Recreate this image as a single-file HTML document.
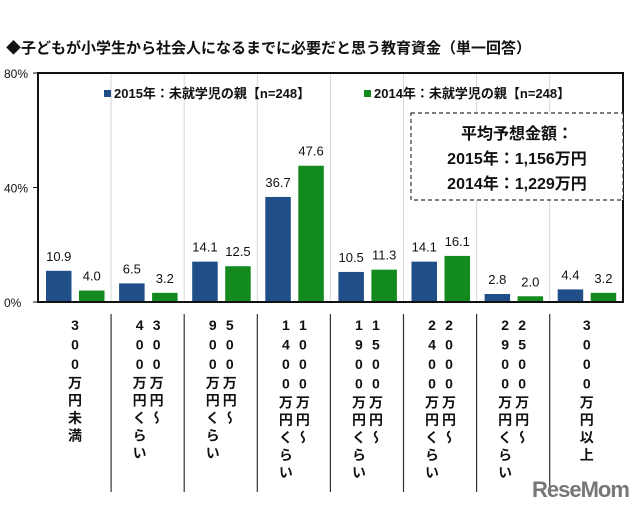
<!DOCTYPE html>
<html><head><meta charset="utf-8"><style>
body{margin:0;background:#fff;width:640px;height:509px;overflow:hidden;font-family:"Liberation Sans","Noto Sans CJK JP",sans-serif;}
svg text{font-family:"Liberation Sans","Noto Sans CJK JP",sans-serif;}
.vl{position:absolute;writing-mode:vertical-rl;text-orientation:upright;font-weight:bold;font-size:14px;line-height:17px;letter-spacing:3.5px;color:#111;}
</style></head><body>
<svg id="chart" width="640" height="509" style="position:absolute;left:0;top:0">
<text x="6" y="53" font-size="15" font-weight="bold" fill="#111">◆子どもが小学生から社会人になるまでに必要だと思う教育資金（単一回答）</text>
<g id="grid"></g><g id="bars"></g>
<rect x="38" y="73" width="585" height="229" fill="none" stroke="#111" stroke-width="2"/>
<g>
<rect x="104" y="90" width="7" height="7" fill="#1f4e89"/>
<text x="114" y="98" font-size="13" font-weight="bold" fill="#111">2015年：未就学児の親【n=248】</text>
<rect x="364" y="90" width="7" height="7" fill="#138a1e"/>
<text x="374" y="98" font-size="13" font-weight="bold" fill="#111">2014年：未就学児の親【n=248】</text>
</g>
<g>
<rect x="411" y="113" width="212" height="87" fill="#fff" stroke="#333" stroke-width="1.2" stroke-dasharray="4,3"/>
<text x="517" y="139" text-anchor="middle" font-size="16" font-weight="bold" fill="#111">平均予想金額：</text>
<text x="517" y="164" text-anchor="middle" font-size="16" font-weight="bold" fill="#111">2015年：1,156万円</text>
<text x="517" y="189" text-anchor="middle" font-size="16" font-weight="bold" fill="#111">2014年：1,229万円</text>
</g>
<g id="yaxis"></g>
</svg>
<div id="labels"></div>
<div style="position:absolute;left:532px;top:477px;font:bold 22px 'Liberation Sans',sans-serif;color:#777;letter-spacing:-1px">ReseMom</div>
<script>
const categories=["300万円未満","300万円～400万円くらい","500万円～900万円くらい","1000万円～1400万円くらい","1500万円～1900万円くらい","2000万円～2400万円くらい","2500万円～2900万円くらい","3000万円以上"];
const labelCols=[["300万円未満"],["300万円～","400万円くらい"],["500万円～","900万円くらい"],["1000万円～","1400万円くらい"],["1500万円～","1900万円くらい"],["2000万円～","2400万円くらい"],["2500万円～","2900万円くらい"],["3000万円以上"]];
const values2015=[10.9,6.5,14.1,36.7,10.5,14.1,2.8,4.4];
const values2014=[4.0,3.2,12.5,47.6,11.3,16.1,2.0,3.2];
const yTicks=[0,40,80];
const yTickLabels=["0%","40%","80%"];
const NS="http://www.w3.org/2000/svg";
const X0=38,CW=73.1,Y0=302,YT=73;
const y=v=>Y0-(v/80)*(Y0-YT);
const x=i=>X0+i*CW;
function mk(t,a,p){const e=document.createElementNS(NS,t);for(const k in a)e.setAttribute(k,a[k]);p.appendChild(e);return e;}
const grid=document.getElementById('grid'),bars=document.getElementById('bars'),ya=document.getElementById('yaxis');
for(let i=1;i<categories.length;i++){
 const g=mk('line',{x1:x(i),x2:x(i),y1:YT,y2:Y0,stroke:'#d8d8d8','stroke-width':1},grid);
 
 
 const s=mk('line',{x1:x(i),x2:x(i),y1:314,y2:492,stroke:'#333','stroke-width':1.2},grid);
 
 
}
yTicks.forEach((t,k)=>{
 const l=mk('text',{x:4,y:y(t)+5,'font-size':12,fill:'#111'},ya);l.textContent=yTickLabels[k];
 
 
 const tk=mk('line',{x1:X0-5,x2:X0,y1:y(t),y2:y(t),stroke:'#111'},ya);
 
 
});
[[values2015,'#1f4e89',8,'2015'],[values2014,'#138a1e',41,'2014']].forEach(([vals,c,off,n])=>{
 vals.forEach((v,i)=>{
  const b=mk('rect',{x:x(i)+off,y:y(v),width:25.5,height:Y0-y(v),fill:c},bars);
  
  
  const t=mk('text',{x:x(i)+off+12.75,y:y(v)-10,'text-anchor':'middle','font-size':13,fill:'#111'},bars);
  t.textContent=v.toFixed(1);
  
  
 });
});
const L=document.getElementById('labels');
labelCols.forEach((cols,i)=>{
 const d=document.createElement('div');
 d.className='vl';
 d.textContent=cols.join('\n');
 d.style.whiteSpace='pre';
 const w=cols.length*17;
 d.style.left=(x(i)+CW/2-w/2)+'px';
 d.style.top='317px';
 
 
 L.appendChild(d);
});
</script>
</body></html>
